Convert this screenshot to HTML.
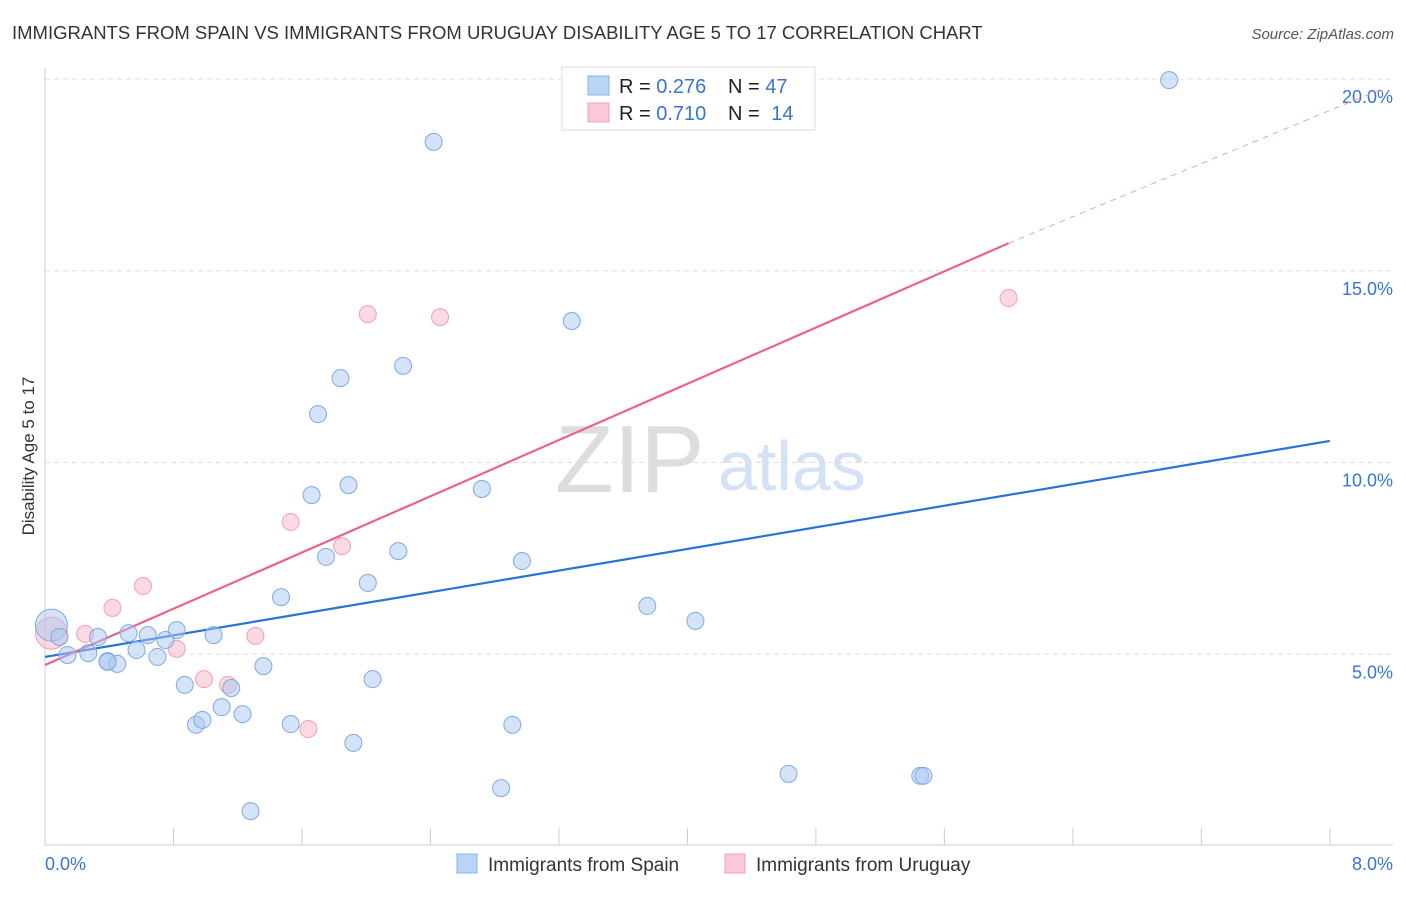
<!DOCTYPE html>
<html><head><meta charset="utf-8"><style>
body{margin:0;background:#fff;font-family:"Liberation Sans",sans-serif}
svg text{font-family:"Liberation Sans",sans-serif}
</style></head><body>
<svg id="chart" width="1406" height="892" viewBox="0 0 1406 892">
<text x="12" y="39" font-size="18.5" fill="#333">IMMIGRANTS FROM SPAIN VS IMMIGRANTS FROM URUGUAY DISABILITY AGE 5 TO 17 CORRELATION CHART</text>
<text x="1394" y="39" font-size="15" fill="#555" text-anchor="end" font-style="italic">Source: ZipAtlas.com</text>
<text transform="translate(34,456) rotate(-90)" font-size="17" fill="#333" text-anchor="middle">Disability Age 5 to 17</text>
<g><text x="555" y="492" font-size="96" fill="#ddd" font-family="Liberation Serif">ZIP</text><text x="718" y="490" font-size="70" fill="#d4e2f5">atlas</text></g>
<g id="grid"></g><g id="axes"></g><g id="lines"></g><g id="points"></g>
<g>
<rect x="562" y="67" width="253" height="63" fill="#fff" stroke="#ddd"/>
<rect x="588" y="76" width="21" height="19" fill="#b8d4f6" stroke="#8ab4e8"/>
<rect x="588" y="103" width="21" height="19" fill="#fac8d6" stroke="#f0a0b8"/>
<text x="619" y="93" font-size="20" fill="#222">R = <tspan fill="#3a74d0">0.276</tspan></text>
<text x="728" y="93" font-size="20" fill="#222">N = <tspan fill="#3a74d0">47</tspan></text>
<text x="619" y="120" font-size="20" fill="#222">R = <tspan fill="#3a74d0">0.710</tspan></text>
<text x="728" y="120" font-size="20" fill="#222">N = <tspan fill="#3a74d0" dx="6">14</tspan></text>
</g>
<g>
<rect x="457" y="854" width="20" height="19" fill="#b8d4f6" stroke="#8ab4e8"/>
<text x="488" y="871" font-size="19" fill="#333">Immigrants from Spain</text>
<rect x="725" y="854" width="20" height="19" fill="#fac8d6" stroke="#f0a0b8"/>
<text x="756" y="871" font-size="19" fill="#333">Immigrants from Uruguay</text>
</g>
</svg>
<script>
const yTicks=[5,10,15,20];
const yTickLabels=["5.0%","10.0%","15.0%","20.0%"];
const xTickLabels=["0.0%","8.0%"];
const spainX=[0.04,0.09,0.14,0.27,0.33,0.39,0.45,0.52,0.57,0.64,0.70,0.75,0.82,0.87,0.94,0.98,1.05,1.10,1.16,1.23,1.28,1.36,1.47,1.53,1.66,1.70,1.75,1.84,1.89,1.92,2.01,2.04,2.20,2.23,2.42,2.72,2.84,2.91,2.97,3.28,3.75,4.05,4.63,5.45,5.47,7.00,0.39];
const spainY=[5.76,5.45,4.98,5.03,5.45,4.82,4.75,5.55,5.11,5.50,4.93,5.37,5.63,4.20,3.16,3.29,5.50,3.62,4.12,3.44,0.91,4.69,6.49,3.18,9.15,11.26,7.54,12.20,9.41,2.69,6.86,4.35,7.69,12.52,18.36,9.31,1.51,3.16,7.43,13.69,6.26,5.87,1.88,1.83,1.83,19.97,4.80];
const uruX=[0.04,0.25,0.42,0.61,0.82,0.99,1.14,1.31,1.53,1.64,1.85,2.01,2.46,6.00];
const uruY=[5.55,5.53,6.21,6.78,5.14,4.35,4.20,5.48,8.45,3.05,7.82,13.87,13.79,14.29];
const spainFit=[4.93,0.704];
const uruFit=[4.72,1.833];
const X=v=>45+v*160.6, Y=v=>846-v*38.35;
const NS="http://www.w3.org/2000/svg";
function mk(p,t,a){const e=document.createElementNS(NS,t);for(const k in a)e.setAttribute(k,a[k]);document.getElementById(p).appendChild(e);return e;}
yTicks.forEach((t,i)=>{
 const g=mk('grid','line',{x1:45,x2:1393,y1:Y(t),y2:Y(t),stroke:'#ddd','stroke-dasharray':'5,4'});
 
 
 const l=mk('grid','text',{x:1393,y:Y(t)+24,'font-size':18,fill:'#3a74d0','text-anchor':'end'});
 l.textContent=yTickLabels[i];
 
 
});
const ax=mk('axes','line',{x1:45,x2:1393,y1:845,y2:845,stroke:'#ccc'});


const ay=mk('axes','line',{x1:45,x2:45,y1:68,y2:845,stroke:'#ccc'});


for(let i=1;i<=10;i++){const t=mk('axes','line',{x1:X(i*0.8),x2:X(i*0.8),y1:828,y2:845,stroke:'#ccc'});
 
 }
const x0=mk('axes','text',{x:45,y:870,'font-size':18,fill:'#3a74d0'});x0.textContent=xTickLabels[0];


const x1=mk('axes','text',{x:1393,y:870,'font-size':18,fill:'#3a74d0','text-anchor':'end'});x1.textContent=xTickLabels[1];


const bl=mk('lines','line',{x1:X(0),y1:Y(spainFit[0]),x2:X(8),y2:Y(spainFit[0]+spainFit[1]*8),stroke:'#2a72d8','stroke-width':2.2});


const pl=mk('lines','line',{x1:X(0),y1:Y(uruFit[0]),x2:X(6),y2:Y(uruFit[0]+uruFit[1]*6),stroke:'#e8628e','stroke-width':2.2});


const pd=mk('lines','line',{x1:X(6),y1:Y(uruFit[0]+uruFit[1]*6),x2:X(8.33),y2:Y(uruFit[0]+uruFit[1]*8.2),stroke:'#f0a0b8','stroke-width':1,'stroke-dasharray':'6,5'});


uruX.forEach((v,i)=>{const c=mk('points','circle',{cx:X(v),cy:Y(uruY[i]),r:i==0?16:8.5,fill:'rgba(248,180,200,0.5)',stroke:'#f0a0b8','stroke-width':1});
 
 });
spainX.forEach((v,i)=>{const c=mk('points','circle',{cx:X(v),cy:Y(spainY[i]),r:i==0?16:8.5,fill:'rgba(170,200,240,0.5)',stroke:'#7eaae6','stroke-width':1});
 
 });
</script>
</body></html>
